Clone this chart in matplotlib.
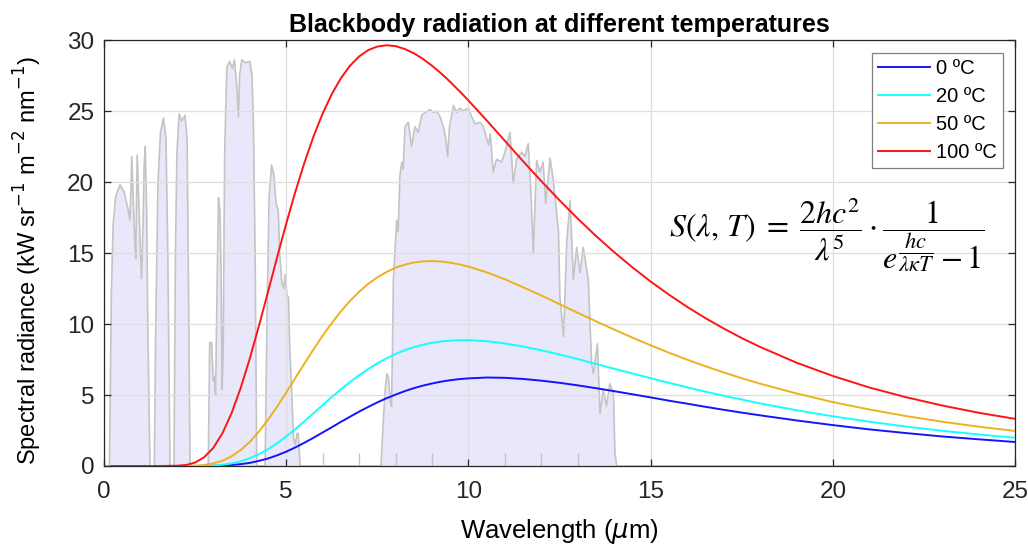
import numpy as np
import matplotlib
matplotlib.use("Agg")
import matplotlib.pyplot as plt

# --- data ---

# wavelength grid (um) for the blackbody curves
wl = [0.2, 1.0, 1.5, 2.0, 2.25, 2.5, 2.75, 3.0, 3.25, 3.5, 3.75, 4.0, 4.25, 4.5, 4.75,
      5.0, 5.25, 5.5, 5.75, 6.0, 6.25, 6.5, 6.75, 7.0, 7.25, 7.5, 7.75, 8.0, 8.25, 8.5,
      8.75, 9.0, 9.25, 9.5, 9.75, 10.0, 10.5, 11.0, 11.5, 12.0, 12.5, 13.0, 13.5, 14.0,
      14.5, 15.0, 15.5, 16.0, 16.5, 17.0, 17.5, 18.0, 19.0, 20.0, 21.0, 22.0, 23.0,
      24.0, 25.0]

s_0c = [0, 0, 0, 0, 0, 0, 0.00, 0.01, 0.03, 0.07, 0.13, 0.22, 0.36, 0.53, 0.75,
        1.01, 1.31, 1.64, 1.99, 2.36, 2.73, 3.11, 3.47, 3.83, 4.16, 4.48, 4.77, 5.03, 5.27, 5.48,
        5.66, 5.81, 5.94, 6.04, 6.12, 6.17, 6.23, 6.21, 6.13, 6.01, 5.86, 5.68, 5.48, 5.27,
        5.05, 4.83, 4.60, 4.39, 4.17, 3.96, 3.76, 3.57, 3.21, 2.88, 2.58, 2.32, 2.08,
        1.88, 1.69]
s_20c = [0, 0, 0, 0, 0, 0, 0.01, 0.04, 0.09, 0.18, 0.33, 0.55, 0.83, 1.18, 1.60,
         2.08, 2.60, 3.15, 3.72, 4.29, 4.86, 5.40, 5.91, 6.39, 6.83, 7.23, 7.58, 7.89, 8.15, 8.37,
         8.54, 8.67, 8.77, 8.83, 8.86, 8.86, 8.79, 8.63, 8.41, 8.15, 7.85, 7.53, 7.19, 6.85,
         6.52, 6.18, 5.86, 5.54, 5.24, 4.95, 4.68, 4.41, 3.93, 3.50, 3.12, 2.78, 2.48,
         2.22, 1.99]
s_50c = [0, 0, 0, 0, 0.01, 0.02, 0.07, 0.18, 0.37, 0.68, 1.12, 1.70, 2.42, 3.26, 4.18,
         5.17, 6.20, 7.22, 8.22, 9.18, 10.07, 10.89, 11.63, 12.27, 12.83, 13.29, 13.66, 13.97, 14.18, 14.33,
         14.41, 14.43, 14.40, 14.32, 14.20, 14.04, 13.64, 13.15, 12.59, 12.01, 11.40, 10.79, 10.19, 9.61,
         9.04, 8.50, 7.98, 7.49, 7.03, 6.59, 6.18, 5.80, 5.11, 4.50, 3.98, 3.52, 3.12,
         2.77, 2.47]
s_100c = [0, 0, 0, 0.02, 0.07, 0.24, 0.62, 1.28, 2.31, 3.72, 5.50, 7.57, 9.86, 12.27, 14.70,
          17.07, 19.31, 21.37, 23.22, 24.83, 26.19, 27.31, 28.19, 28.84, 29.29, 29.54, 29.63, 29.57, 29.37, 29.07,
          28.67, 28.19, 27.65, 27.05, 26.41, 25.74, 24.34, 22.90, 21.46, 20.06, 18.71, 17.42, 16.20, 15.06,
          13.99, 12.99, 12.07, 11.21, 10.42, 9.69, 9.01, 8.39, 7.28, 6.34, 5.53, 4.85, 4.26,
          3.75, 3.32]

labels = ["0 \u00baC", "20 \u00baC", "50 \u00baC", "100 \u00baC"]
colors = ["#1414ff", "#14ffff", "#edb120", "#ff1414"]

# atmospheric window (background shading)
trans_x = [0.0, 0.15, 0.2, 0.25, 0.32, 0.44, 0.55, 0.65, 0.71, 0.74, 0.76, 0.8, 0.84, 0.87, 0.89, 0.91,
           0.95, 1.0, 1.03, 1.07, 1.1, 1.13, 1.17, 1.2, 1.24, 1.26,
           1.38, 1.42, 1.48, 1.55, 1.63, 1.7, 1.75, 1.79, 1.81,
           1.92, 1.96, 2.0, 2.06, 2.13, 2.22, 2.28, 2.32, 2.36,
           2.86, 2.9, 2.95, 3.0, 3.03, 3.06, 3.1, 3.14, 3.18, 3.21, 3.24, 3.27, 3.31, 3.37, 3.45,
           3.52, 3.58, 3.65, 3.69, 3.72, 3.78, 3.88, 4.0, 4.06, 4.1, 4.15, 4.19,
           4.42, 4.47, 4.53, 4.6, 4.66, 4.72, 4.78, 4.82, 4.88, 4.93, 4.97, 5.02, 5.06, 5.1, 5.15,
           5.2, 5.25, 5.3, 5.33, 5.38,
           7.6, 7.66, 7.72, 7.76, 7.8, 7.86, 7.89, 7.92, 7.94, 7.98, 8.03, 8.07, 8.12, 8.17, 8.21,
           8.26, 8.35, 8.44, 8.53, 8.62, 8.72, 8.81, 8.95, 9.04, 9.13, 9.22, 9.31, 9.38, 9.43, 9.48,
           9.59, 9.68, 9.77, 9.86, 10.0, 10.09, 10.18, 10.32, 10.41, 10.55, 10.6, 10.68, 10.77,
           10.91, 11.0, 11.14, 11.23, 11.32, 11.46, 11.55, 11.64, 11.72, 11.78, 11.87, 11.96, 12.05,
           12.12, 12.24, 12.33, 12.47, 12.51, 12.61, 12.7, 12.79, 12.88, 12.97, 13.06, 13.15, 13.29,
           13.38, 13.43, 13.54, 13.61, 13.7, 13.79, 13.88, 13.98, 14.02, 14.07, 25.0]
trans_y = [0, 0, 12, 17, 19, 19.8, 19.3, 18.2, 17.3, 19.5, 21.8, 19, 16, 14.6, 18, 21.9,
           19, 15, 13.2, 17, 21, 22.5, 18, 10, 3, 0,
           0, 10, 20, 23.5, 24.5, 23, 15, 5, 0,
           0, 15, 22, 24.8, 24.3, 24.7, 23, 12, 0,
           0, 8.7, 8.7, 6.0, 6.3, 5.0, 12, 18.9, 18.0, 14, 5.4, 8, 22, 28.1, 28.5,
           28.0, 28.6, 26.5, 24.6, 27.5, 28.6, 28.4, 28.5, 27.5, 24, 14, 0,
           0, 10, 19, 21.2, 20.5, 18.5, 18.0, 15, 12.9, 12.5, 13.5, 12, 11.9, 8, 5.3,
           2.0, 1.5, 2.3, 2.3, 0,
           0, 3, 5.5, 6.5, 6.3, 4.5, 4.2, 9, 13.1, 15, 17.3, 16.5, 20.4, 21.4, 20.9,
           23.9, 24.2, 22.5, 23.9, 23.5, 24.7, 24.9, 25.1, 24.9, 25.0, 24.6, 23.9, 23.0, 21.8, 23.9,
           25.4, 24.9, 25.2, 25.0, 25.2, 24.6, 24.1, 24.2, 23.9, 22.6, 23.4, 20.7, 21.6,
           21.4, 22.1, 23.5, 19.9, 21.6, 22.1, 21.8, 22.7, 19, 15.0, 21.5, 20.7, 21.4,
           18.5, 21.7, 20.1, 16.6, 11.9, 9.1, 15.9, 18.7, 13.1, 15.4, 13.6, 15.4, 13.1,
           7.2, 6.5, 8.6, 3.7, 5.35, 4.2, 5.8, 5.1, 0.9, 0, 0]

# small spikes in the window data
spike_x = [6, 7, 8, 9, 11, 12, 13]
spike_h = [0.9, 0.9, 0.9, 0.9, 0.9, 0.9, 0.9]

plt.rcParams["font.family"] = ["Liberation Sans", "DejaVu Sans"]

# --- plot ---
fig = plt.figure(figsize=(10.28, 5.52), dpi=100)
ax = fig.add_axes([0.1012, 0.1558, 0.8862, 0.7717])

ax.fill_between(trans_x, trans_y, 0, color="#e8e8fa", zorder=0.2, lw=0)
ax.plot(trans_x, trans_y, color="#c4c4c4", lw=1.2, zorder=0.3)
ax.vlines(spike_x, 0, spike_h, color="#c4c4c4", lw=1.0, zorder=0.3)

series = [s_0c, s_20c, s_50c, s_100c]
for s, lab, c in zip(series, labels, colors):
    ax.plot(wl, s, color=c, lw=1.4, label=lab, zorder=3)

ax.set_xlim(0, 25)
ax.set_ylim(0, 30)
ax.set_xticks([0, 5, 10, 15, 20, 25])
ax.set_yticks([0, 5, 10, 15, 20, 25, 30])
ax.grid(True, color="#dedede", lw=0.9)
ax.set_axisbelow(True)
ax.tick_params(direction="in", length=5, width=0.9, top=True, right=True,
               labelsize=17.5, colors="#262626")
ax.tick_params(axis="x", pad=11)
ax.tick_params(axis="y", pad=7)
for sp in ax.spines.values():
    sp.set_color("#262626")
    sp.set_linewidth(0.9)

ax.set_title("Blackbody radiation at different temperatures", fontsize=18,
             fontweight="bold", pad=6)
ax.set_xlabel(r"Wavelength ($\mu$m)", fontsize=18.5, labelpad=10)
ax.set_ylabel(r"Spectral radiance (kW sr$^{-1}$ m$^{-2}$ nm$^{-1}$)", fontsize=17)
ax.yaxis.set_label_coords(-0.066, 0.483)

leg = ax.legend(loc="upper right", fontsize=14.5, handlelength=2.6, handletextpad=0.3,
                borderpad=0.3, labelspacing=0.45, fancybox=False, framealpha=1,
                edgecolor="#808080", borderaxespad=0, bbox_to_anchor=(0.987, 0.97))
leg.get_frame().set_linewidth(0.9)

ax.text(15.5, 16.35,
        r"$S(\lambda,\,T)\;=\;\dfrac{2hc^2}{\lambda^5}\cdot\dfrac{1}{e^{\dfrac{hc}{\lambda\kappa T}}-1}$",
        fontsize=23, math_fontfamily="stix", va="center", ha="left", zorder=4)

fig.savefig("out.png", dpi=100, facecolor="white")
